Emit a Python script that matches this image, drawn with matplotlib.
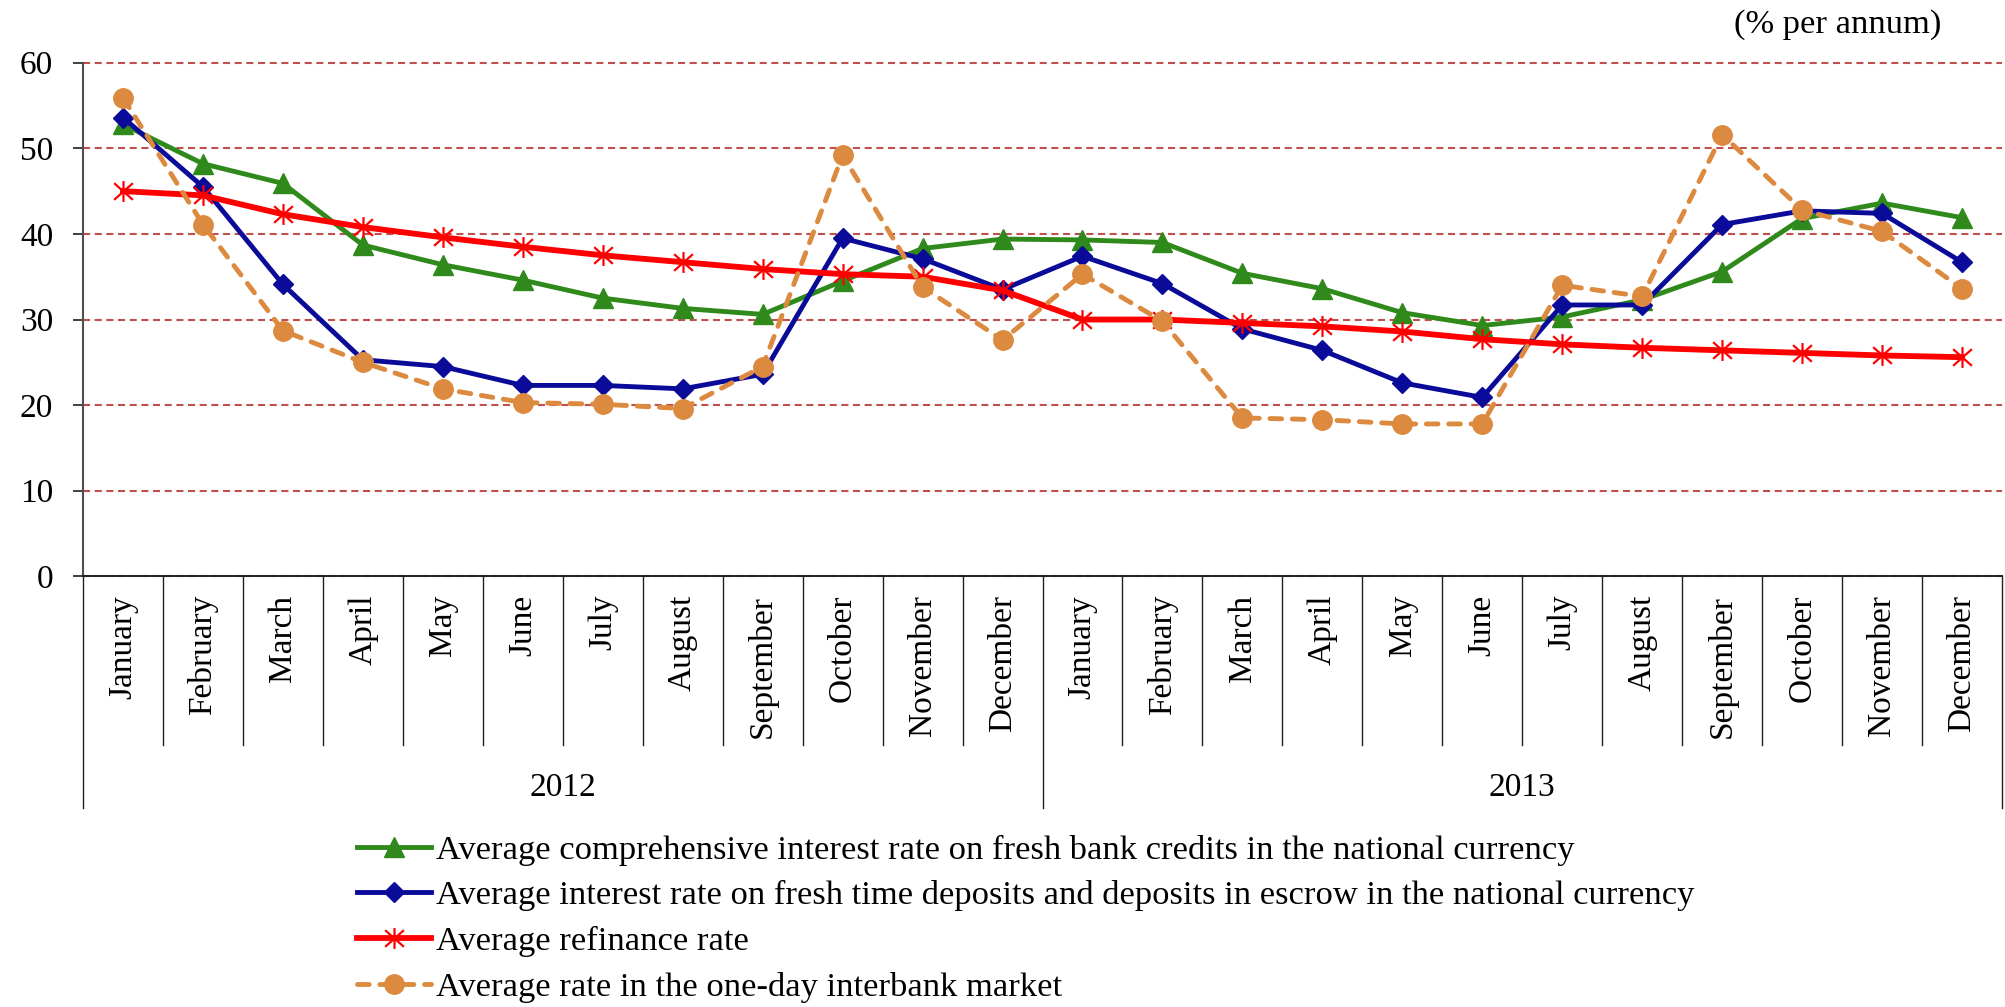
import matplotlib

matplotlib.use("Agg")
import matplotlib.pyplot as plt
import numpy as np
from matplotlib.path import Path

plt.rcParams["font.family"] = ["Liberation Serif", "DejaVu Serif"]

# ---------------------------------------------------------------- data ---
MONTHS = ["January", "February", "March", "April", "May", "June", "July",
          "August", "September", "October", "November", "December"]
YEARS = ["2012", "2013"]

credits = [52.8, 48.2, 45.9, 38.7, 36.4, 34.6, 32.5, 31.3, 30.6, 34.5, 38.3, 39.4,
           39.3, 39.0, 35.4, 33.6, 30.8, 29.3, 30.3, 32.3, 35.6, 41.8, 43.6, 41.9]
deposits = [53.6, 45.5, 34.1, 25.3, 24.5, 22.3, 22.3, 21.9, 23.6, 39.5, 37.1, 33.5,
            37.4, 34.2, 28.9, 26.4, 22.6, 20.9, 31.7, 31.7, 41.1, 42.7, 42.4, 36.7]
refinance = [45.0, 44.5, 42.3, 40.8, 39.6, 38.5, 37.5, 36.7, 35.9, 35.3, 35.0, 33.4,
             30.0, 30.0, 29.6, 29.2, 28.6, 27.7, 27.1, 26.7, 26.4, 26.1, 25.8, 25.6]
interbank = [55.9, 41.1, 28.7, 25.0, 21.9, 20.3, 20.1, 19.6, 24.5, 49.2, 33.8, 27.6,
             35.3, 29.8, 18.5, 18.3, 17.8, 17.8, 34.0, 32.7, 51.6, 42.8, 40.3, 33.6]

LABELS = [
    "Average comprehensive interest rate on fresh bank credits in the national currency",
    "Average interest rate on fresh time deposits and deposits in escrow in the national currency",
    "Average refinance rate",
    "Average rate in the one-day interbank market",
]

# asterisk marker: vertical stroke plus an X
ASTERISK = Path([(0, -1), (0, 1), (-0.9, -0.8), (0.9, 0.8), (-0.9, 0.8), (0.9, -0.8)],
                [Path.MOVETO, Path.LINETO] * 3)

FS = 24
x = np.arange(len(MONTHS) * len(YEARS))

fig = plt.figure(figsize=(20.06, 10.07), dpi=100)
ax = fig.add_axes([0.0414, 0.4277, 0.9566, 0.5100])

ax.plot(x, credits, color="#2F8A1B", lw=3.5, marker="^", ms=15, label=LABELS[0], zorder=3)
ax.plot(x, deposits, color="#0B0B9A", lw=3.5, marker="D", ms=10.5, label=LABELS[1], zorder=4)
ax.plot(x, refinance, color="#FF0000", lw=4.2, marker=ASTERISK, ms=15, mew=1.6,
        mec="#FF0000", mfc="none", label=LABELS[2], zorder=5)
ax.plot(x, interbank, color="#DC8A3F", lw=3.5, ls=(0, (2.4, 2.2)), dash_capstyle="round",
        marker="o", ms=14, label=LABELS[3], zorder=6)

ax.set_xlim(-0.5, len(x) - 0.5)
ax.set_ylim(0, 60)
ax.set_yticks(range(0, 61, 10))
ax.tick_params(axis="y", labelsize=FS, length=7.5, width=1.4, color="#404040", pad=14)
ax.set_xticks([])
ax.grid(axis="y", color="#C0504D", ls=(0, (3.4, 2.2)), lw=1.5)
for gl in ax.get_ygridlines():
    gl.set_clip_on(False)
ax.set_axisbelow(True)
for side in ("top", "right"):
    ax.spines[side].set_visible(False)
ax.spines["left"].set_color("#505050")
ax.spines["left"].set_linewidth(1.5)
ax.spines["bottom"].set_color("#202020")
ax.spines["bottom"].set_linewidth(1.4)

# category table under the axis: month cells, then year cells
tr = ax.get_xaxis_transform()
n_m = len(MONTHS)
for k in range(len(x) + 1):
    bottom = -0.451 if k % n_m == 0 else -0.3285
    ax.plot([k - 0.5, k - 0.5], [0, bottom], color="#202020", lw=1.0,
            transform=tr, clip_on=False)
for i in x:
    ax.text(i, -0.036, MONTHS[i % n_m], rotation=90, ha="center", va="top",
            fontsize=FS, transform=tr)
for j, yr in enumerate(YEARS):
    ax.text(j * n_m + (n_m - 1) / 2, -0.412, yr, ha="center", va="center",
            fontsize=FS, transform=tr)

fig.text(0.968, 0.976, "(% per annum)", ha="right", va="center", fontsize=24.8)

fig.legend(loc="upper left", bbox_to_anchor=(0.178, 0.171), frameon=False, fontsize=24.8,
           handlelength=2.15, handletextpad=0.15, labelspacing=0.42, borderpad=0,
           borderaxespad=0)

fig.savefig("out.png", dpi=100)
